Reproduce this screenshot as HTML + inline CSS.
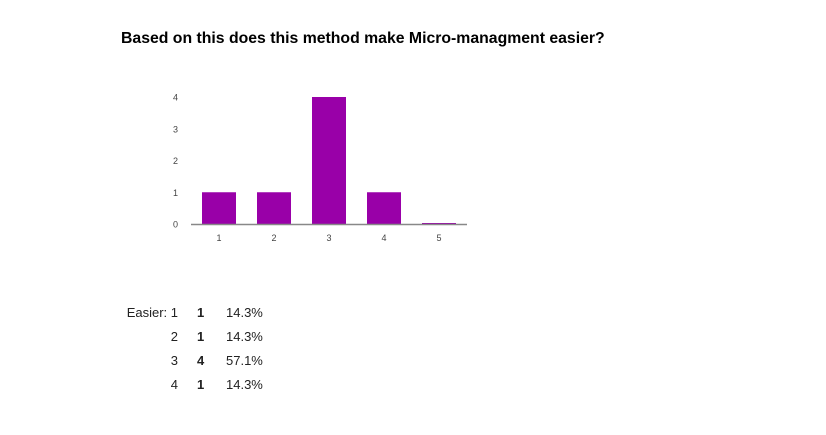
<!DOCTYPE html>
<html><head><meta charset="utf-8"><style>
body{margin:0;background:#fff;font-family:"Liberation Sans",Arial,sans-serif;}
#wrap{position:relative;width:826px;height:435px;overflow:hidden;}
.t{position:absolute;font-size:13px;color:#222;}
</style></head><body>
<div id="wrap">
<div class="t" style="left:121px;top:30px;font-size:15.8px;font-weight:bold;color:#000">Based on this does this method make Micro-managment easier?</div>
<svg id="chart" width="826" height="300" style="position:absolute;left:0;top:0"></svg>
<div>
<div class="t" style="right:648px;top:305px">Easier: 1</div>
<div class="t" style="left:197px;top:305px;font-weight:bold">1</div>
<div class="t" style="left:226px;top:305px">14.3%</div>
<div class="t" style="right:648px;top:329px">2</div>
<div class="t" style="left:197px;top:329px;font-weight:bold">1</div>
<div class="t" style="left:226px;top:329px">14.3%</div>
<div class="t" style="right:648px;top:353px">3</div>
<div class="t" style="left:197px;top:353px;font-weight:bold">4</div>
<div class="t" style="left:226px;top:353px">57.1%</div>
<div class="t" style="right:648px;top:377px">4</div>
<div class="t" style="left:197px;top:377px;font-weight:bold">1</div>
<div class="t" style="left:226px;top:377px">14.3%</div>
</div>
</div>
<script>
const categories=["1","2","3","4","5"];
const values=[1,1,4,1,0];
const yTicks=[0,1,2,3,4];
const NS="http://www.w3.org/2000/svg";
const svg=document.getElementById('chart');
const x0=191,x1=467,yBase=224,yTop=97,yMax=4;
const step=55,firstCenter=219,barW=34;
function xs(i){return firstCenter+i*step;}
function ys(v){return yBase-(yBase-yTop)*v/yMax;}
function mk(tag,attrs){const e=document.createElementNS(NS,tag);for(const k in attrs)e.setAttribute(k,attrs[k]);svg.appendChild(e);return e;}
yTicks.forEach(v=>{
 const t=mk('text',{x:178,y:ys(v)+3.5,'text-anchor':'end','font-size':'9','fill':'#444','font-family':'Liberation Sans, sans-serif'});
 t.textContent=v;
 
 
});
values.forEach((v,i)=>{
 const h=Math.max(yBase-ys(v),1);
 const r=mk('rect',{x:xs(i)-barW/2,y:yBase-h,width:barW,height:h,fill:'#9900a8'});
 
 
 const t=mk('text',{x:xs(i),y:241,'text-anchor':'middle','font-size':'9','fill':'#444','font-family':'Liberation Sans, sans-serif'});
 t.textContent=categories[i];
 
 
});
const ax=mk('line',{x1:x0,x2:x1,y1:yBase+0.5,y2:yBase+0.5,stroke:'#888','stroke-width':1.5});


</script>
</body></html>
